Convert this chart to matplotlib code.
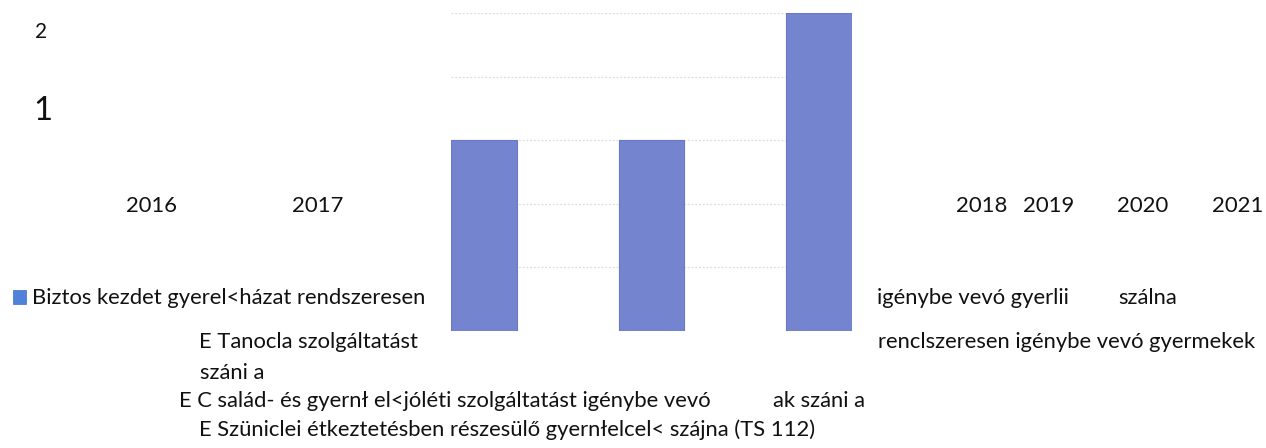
import matplotlib
matplotlib.use("Agg")
import statistics
import matplotlib.pyplot as plt

plt.rcParams['font.family'] = ['Lato', 'DejaVu Sans']

# ---- data ----
bar_values = [3, 3, 5]
y_labels = ["2", "1"]
year_labels = ["2016", "2017", "2018", "2019", "2020", "2021"]
legend_fragments = [
    "Biztos kezdet gyerel<házat rendszeresen",
    "igénybe vevó gyerlii",
    "szálna",
    "E Tanocla szolgáltatást",
    "renclszeresen igénybe vevó gyermekek",
    "száni a",
    "E C salád- és gyernł el<jóléti szolgáltatást igénybe vevó",
    "ak száni a",
    "E Szüniclei étkeztetésben részesülő gyernłelcel< szájna (TS 112)",
]

W, H = 1266, 448
fig = plt.figure(figsize=(W / 100, H / 100), dpi=100)

# ---- bar axes ----
ax_l, ax_r, ax_t, ax_b = 451, 852, 13, 331
ax = fig.add_axes([ax_l / W, (H - ax_b) / H, (ax_r - ax_l) / W, (ax_b - ax_t) / H])
xs = list(range(len(bar_values)))
ax.bar(xs, bar_values, width=0.394, color='#7584cf', edgecolor='#6778c8',
       linewidth=0.8, zorder=3)
ax.set_xlim(-0.197, 2.197)
ax.set_ylim(0, 5)
ax.set_yticks([1, 2, 3, 4, 5])
ax.yaxis.grid(True, color='#dcdcdc', linestyle=(0, (1.5, 1.5)), linewidth=0.9, zorder=0)
ax.set_xticks([])
ax.tick_params(left=False, labelleft=False)
for s in ax.spines.values():
    s.set_visible(False)
ax.patch.set_alpha(0)

fig.canvas.draw()
renderer = fig.canvas.get_renderer()


def px(x, y):
    return x / W, 1 - y / H


def place(text, x, y, size, ha='left', width=None):
    t = fig.text(*px(x, y), text, fontsize=size, ha=ha, va='baseline', color='#111111')
    if width is not None:
        bb = t.get_window_extent(renderer)
        t.set_fontsize(size * width / bb.width)
    return t


# y axis stray labels
place(y_labels[0], 35, 38, 13, width=12)
place(y_labels[1], 33, 120, 27, width=19)

# year labels
year_centers = [151.5, 317.5, 981.5, 1049, 1143, 1238]
for lab, cx in zip(year_labels, year_centers):
    place(lab, cx, 212, 16.5, ha='center', width=51)

# legend marker
fig.patches.append(plt.Rectangle(px(13, 304), 13 / W, 14 / H, transform=fig.transFigure,
                                 facecolor='#4f82d8', edgecolor='#3f6fc6', linewidth=0.5))

# legend fragments: (x_left, baseline_y, target width)
frag_pos = [
    (32, 304, 392),
    (877, 304, 191),
    (1118, 304, 57),
    (199, 348, None),
    (878, 348, 377),
    (200, 379, None),
    (179, 407, 534),
    (773, 407, 102),
    (199, 436, 613),
]
texts = []
fits = []
for txt, (x, y, w) in zip(legend_fragments, frag_pos):
    t = place(txt, x, y, 14.5, width=w)
    texts.append(t)
    if w is not None and w > 150:
        fits.append(t.get_fontsize())
common = statistics.median(fits)
for t in texts:
    t.set_fontsize(common)

fig.savefig("out.png", dpi=100)
